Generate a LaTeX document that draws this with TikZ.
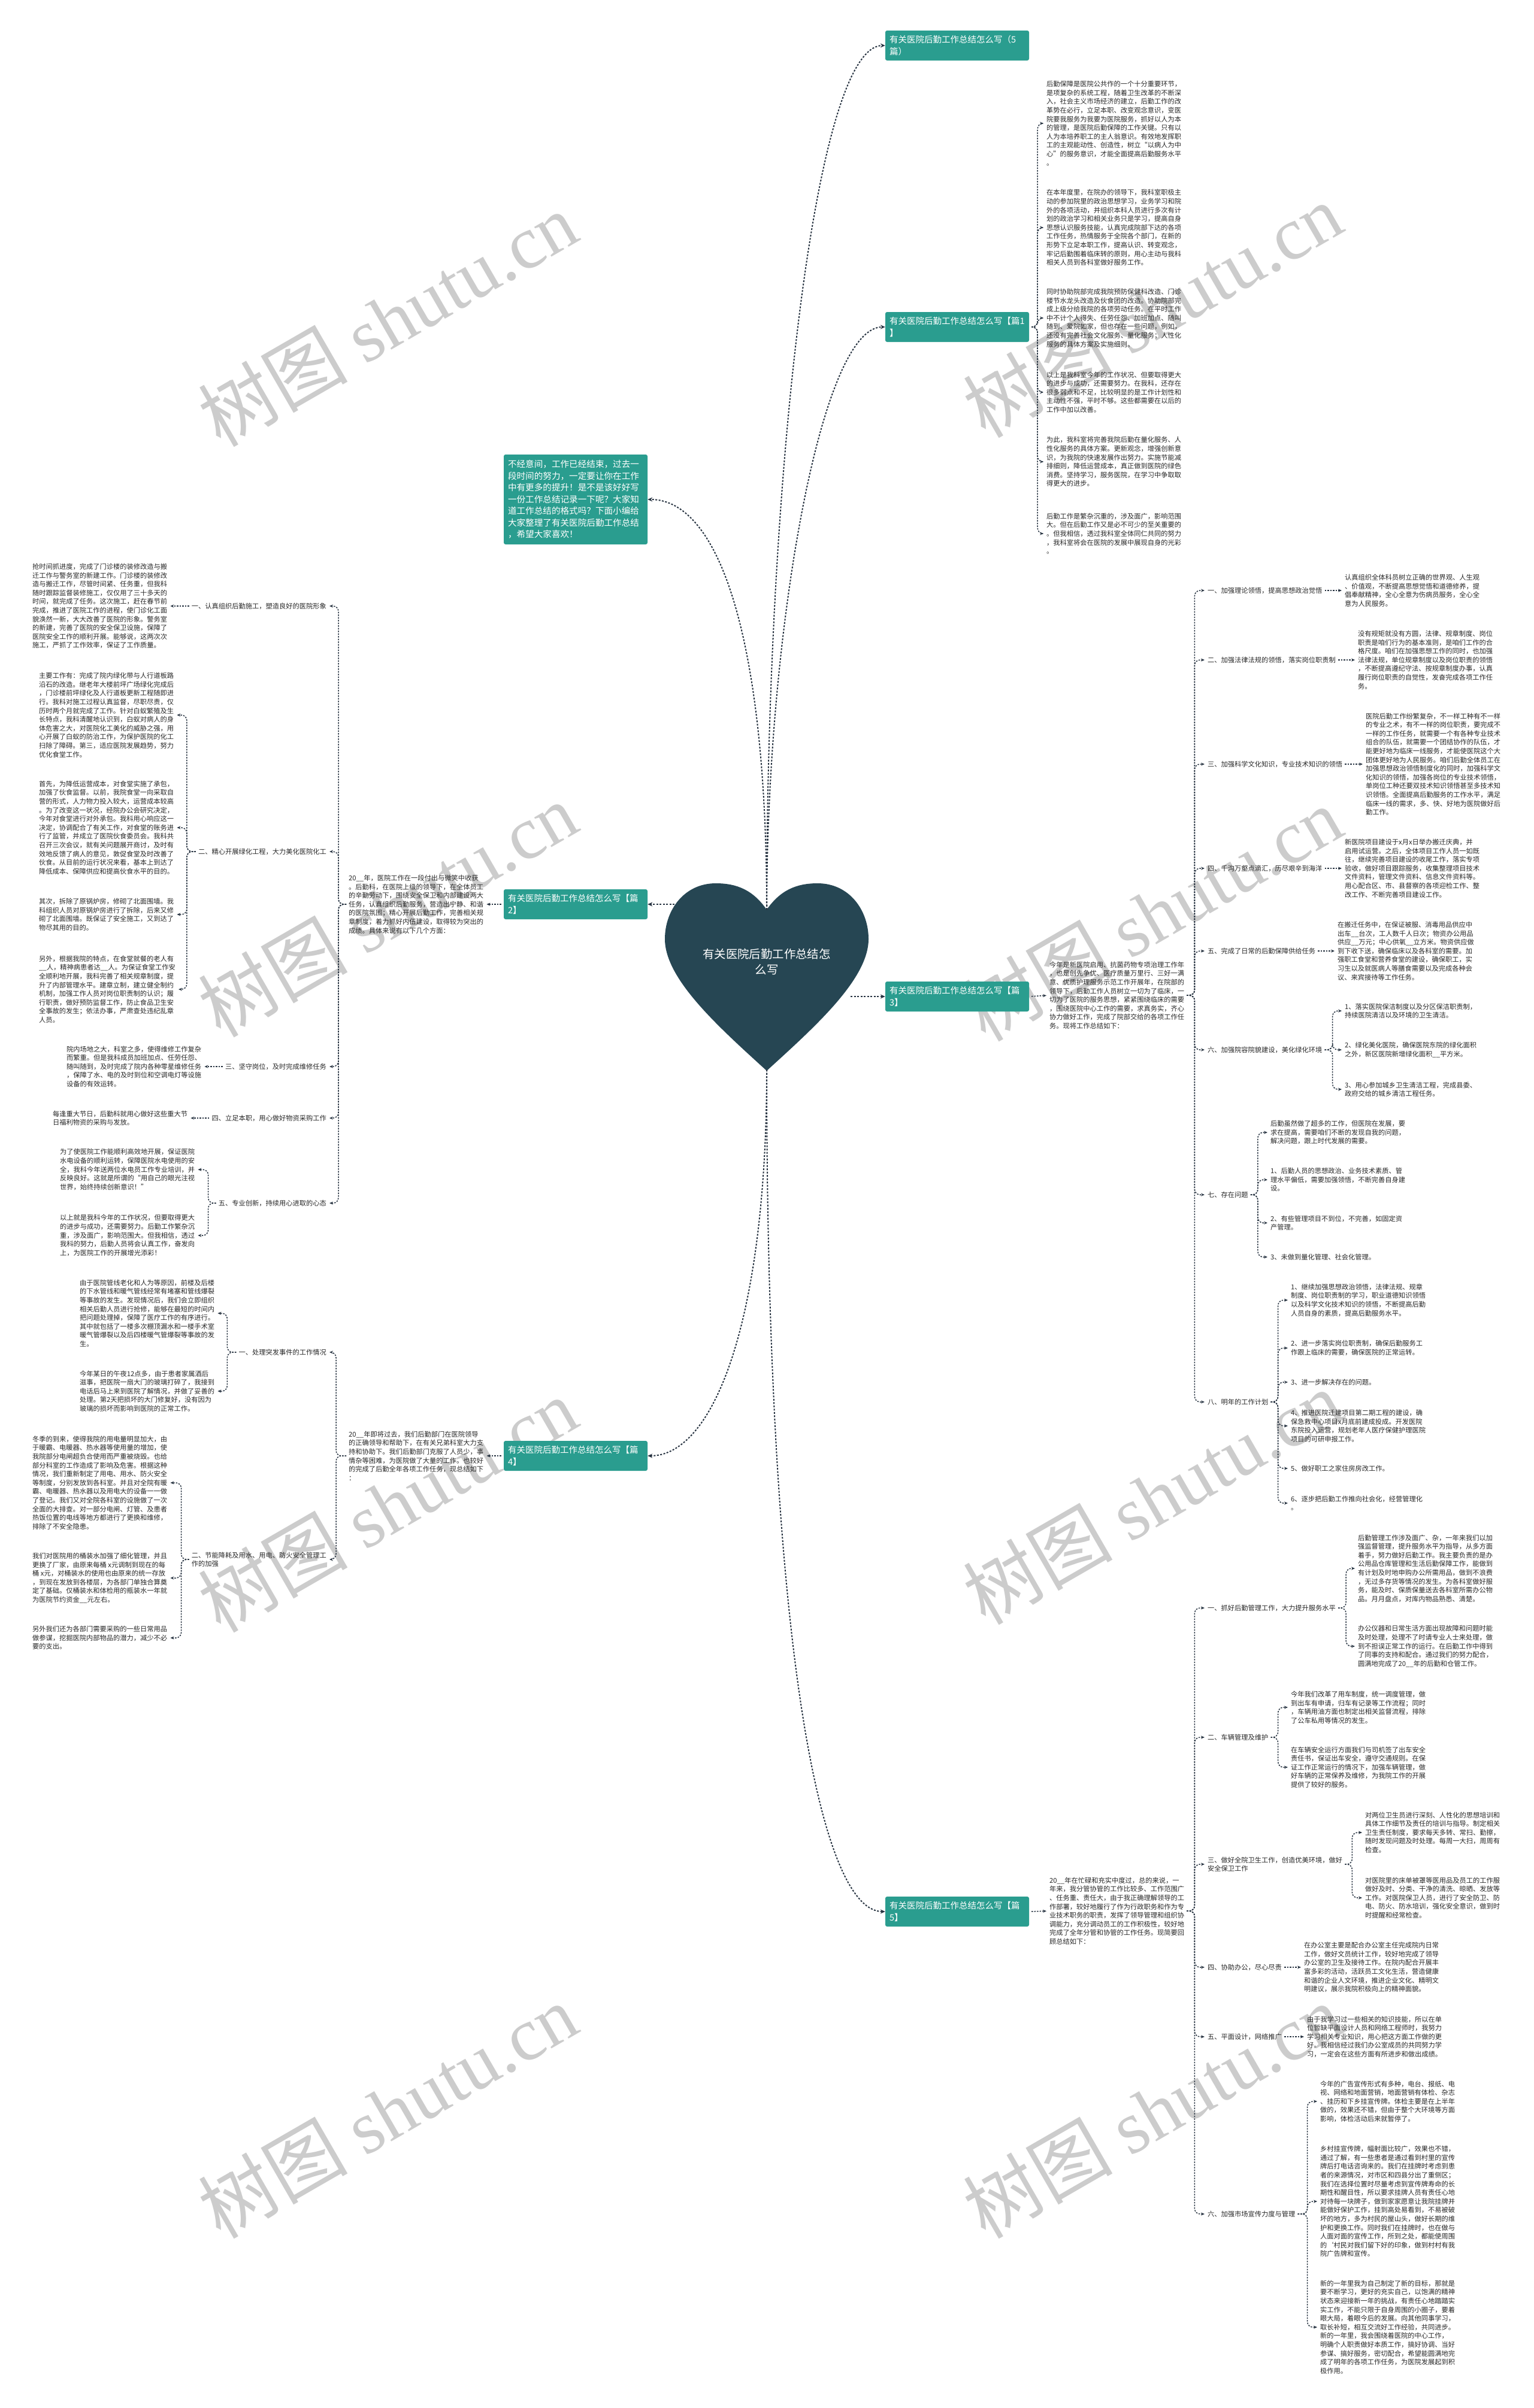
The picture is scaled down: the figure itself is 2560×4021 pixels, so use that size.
\documentclass[tikz,border=0pt]{standalone}
\usepackage{fontspec}
\setmainfont{Noto Sans CJK SC}
\newfontfamily\wmlatin{Liberation Serif}
\usetikzlibrary{arrows.meta}
\definecolor{TopicTeal}{RGB}{42,157,143}
\definecolor{HeartSlate}{RGB}{38,70,83}
\definecolor{LinkNavy}{RGB}{40,52,66}
\definecolor{LeafInk}{RGB}{40,40,40}
\definecolor{MarkGray}{RGB}{204,204,204}
\newcommand\leaffont{\fontsize{11.25pt}{14.6pt}\selectfont}
\newcommand\topicfont{\fontsize{14.5pt}{20pt}\selectfont}
\newcommand\introfont{\fontsize{14.6pt}{19.5pt}\selectfont}
\newcommand\heartfont{\fontsize{19.4pt}{26pt}\selectfont}

\begin{document}
\begin{tikzpicture}[x=1pt,y=-1pt,
  topic/.style={fill=TopicTeal,text=white,rounded corners=3pt,font=\topicfont,align=left,
    text width=226pt,inner xsep=7pt,inner ysep=5pt,minimum height=50pt},
  introbox/.style={topic,font=\introfont,minimum height=150pt},
  para/.style={inner sep=0pt,align=left,font=\leaffont,text=LeafInk,anchor=west},
  parar/.style={para,anchor=east},
  link/.style={draw=LinkNavy,line width=2pt,dash pattern=on 3pt off 2.5pt,-{Stealth[length=8pt,width=7pt]}},
  sublink/.style={draw=LinkNavy,line width=1.5pt,dash pattern=on 2.5pt off 2pt,rounded corners=9pt,
    shorten <=4pt,shorten >=5pt,-{Stealth[length=6pt,width=5pt]}},
  watermark/.style={text=MarkGray,font=\fontsize{125pt}{125pt}\selectfont,rotate=30,inner sep=0pt}]
\useasboundingbox (0,0) rectangle (2560,4021);
\fill[white] (0,0) rectangle (2560,4021);

% watermarks
\foreach \wx/\wy [count=\k] in {647/533,1924/518,647/1519,1924/1526,647/2513,1924/2500,647/3525,1924/3525}
  \node[watermark] (wm\k) at (\wx,\wy) {树图 {\wmlatin shutu.cn}};

% centre heart
\fill[HeartSlate] (1280,1519) .. controls (1303,1486) and (1330,1475) .. (1365,1475)
  .. controls (1418,1475) and (1450,1520) .. (1450,1568)
  .. controls (1450,1635) and (1360,1715) .. (1280,1788)
  .. controls (1200,1715) and (1110,1635) .. (1110,1568)
  .. controls (1110,1520) and (1142,1475) .. (1195,1475)
  .. controls (1230,1475) and (1257,1486) .. (1280,1519) -- cycle;
\node[font=\heartfont,text=white,align=center] (root) at (1280,1606) {有关医院后勤工作总结怎\\么写};
\coordinate (notch) at (1280,1519);
\coordinate (tip) at (1280,1786);
\coordinate (hwest) at (1126,1510);
\coordinate (heast) at (1420,1664);

% first level
\node[introbox] (intro) at (961,834) {不经意间，工作已经结束，过去一\\段时间的努力，一定要让你在工作\\中有更多的提升！是不是该好好写\\一份工作总结记录一下呢？大家知\\道工作总结的格式吗？下面小编给\\大家整理了有关医院后勤工作总结\\，希望大家喜欢！};
\node[topic] (l0) at (1598,76) {有关医院后勤工作总结怎么写（5\\篇）};
\node[topic] (l1) at (1598,546) {有关医院后勤工作总结怎么写【篇1\\】};
\node[topic] (l2) at (961,1510) {有关医院后勤工作总结怎么写【篇\\2】};
\node[topic] (l3) at (1598,1664) {有关医院后勤工作总结怎么写【篇\\3】};
\node[topic] (l4) at (961,2431) {有关医院后勤工作总结怎么写【篇\\4】};
\node[topic] (l5) at (1598,3192) {有关医院后勤工作总结怎么写【篇\\5】};

\draw[link] (notch) .. controls +(0,-700) and +(-120,0) .. (l0.west);
\draw[link] (notch) .. controls +(0,-450) and +(-110,0) .. (l1.west);
\draw[link] (notch) .. controls +(0,-450) and +(120,0) .. (intro.east);
\draw[link] (hwest) -- (l2.east);
\draw[link] (heast) -- (l3.west);
\draw[link] (tip) .. controls +(0,420) and +(110,0) .. (l4.east);
\draw[link] (tip) .. controls +(0,950) and +(-110,0) .. (l5.west);

% ---- 篇1
\node[para] (p1a) at (1747,206) {后勤保障是医院公共作的一个十分重要环节，\\是项复杂的系统工程，随着卫生改革的不断深\\入，社会主义市场经济的建立，后勤工作的改\\革势在必行，立足本职、改变观念意识，变医\\院要我服务为我要为医院服务，抓好以人为本\\的管理，是医院后勤保障的工作关键。只有以\\人为本培养职工的主人翁意识。有效地发挥职\\工的主观能动性、创造性，树立“以病人为中\\心”的服务意识，才能全面提高后勤服务水平\\。};
\node[para] (p1b) at (1747,380) {在本年度里，在院办的领导下，我科室职极主\\动的参加院里的政治思想学习，业务学习和院\\外的各项活动，并组织本科人员进行多次有计\\划的政治学习和相关业务只是学习，提高自身\\思想认识服务技能，认真完成院部下达的各项\\工作任务，热情服务于全院各个部门，在新的\\形势下立足本职工作，提高认识、转变观念，\\牢记后勤围着临床转的原则，用心主动与我科\\相关人员到各科室做好服务工作。};
\node[para] (p1c) at (1747,531) {同时协助院部完成我院预防保健科改造、门诊\\楼节水龙头改造及伙食团的改造。协助院部完\\成上级分给我院的各项劳动任务。在平时工作\\中不计个人得失、任劳任怨、加班加点、随叫\\随到、爱院如家，但也存在一些问题，例如，\\还没有完善社会文化服务、量化服务；人性化\\服务的具体方案及实施细则。};
\node[para] (p1d) at (1747,655) {以上是我科室今年的工作状况、但要取得更大\\的进步与成功，还需要努力。在我科，还存在\\很多弱点和不足，比较明显的是工作计划性和\\主动性不强，平时不够。这些都需要在以后的\\工作中加以改善。};
\node[para] (p1e) at (1747,771) {为此，我科室将完善我院后勤在量化服务、人\\性化服务的具体方案。更新观念，增强创新意\\识，为我院的快速发展作出努力。实施节能减\\排细则，降低运营成本，真正做到医院的绿色\\消费。坚持学习，服务医院，在学习中争取取\\得更大的进步。};
\node[para] (p1f) at (1747,891) {后勤工作是繁杂沉重的，涉及面广，影响范围\\大。但在后勤工作又是必不可少的至关重要的\\。但我相信，透过我科室全体同仁共同的努力\\，我科室将会在医院的发展中展现自身的光彩\\。};
\foreach \p in {p1a,p1b,p1c,p1d,p1e,p1f}
  \draw[sublink] (l1.east) -- ++(14,0) |- (\p.west);

% ---- 篇3
\node[para] (i3) at (1752,1662) {今年是新医院启用、抗菌药物专项治理工作年\\，也是创先争优、医疗质量万里行、三好一满\\意、优质护理服务示范工作开展年，在院部的\\领导下，后勤工作人员树立一切为了临床，一\\切为了医院的服务思想，紧紧围绕临床的需要\\，围绕医院中心工作的需要，求真务实，齐心\\协力做好工作，完成了院部交给的各项工作任\\务。现将工作总结如下：};
\draw[sublink] (l3.east) -- (i3.west);
\node[para] (h3a) at (2016,986) {一、加强理论领悟，提高思想政治觉悟};
\node[para] (h3b) at (2016,1102) {二、加强法律法规的领悟，落实岗位职责制};
\node[para] (h3c) at (2016,1276) {三、加强科学文化知识，专业技术知识的领悟};
\node[para] (h3d) at (2016,1450) {四、千沟万壑点滴汇，历尽艰辛到海洋};
\node[para] (h3e) at (2016,1588) {五、完成了日常的后勤保障供给任务};
\node[para] (h3f) at (2016,1753) {六、加强院容院貌建设，美化绿化环境};
\node[para] (h3g) at (2016,1995) {七、存在问题};
\node[para] (h3h) at (2016,2341) {八、明年的工作计划};
\foreach \h in {h3a,h3b,h3c,h3d,h3e,h3f,h3g,h3h}
  \draw[sublink] (i3.east) -- ++(17,0) |- (\h.west);

\node[para] (t3a) at (2245,986) {认真组织全体科员树立正确的世界观、人生观\\、价值观，不断提高思想觉悟和道德修养，提\\倡奉献精神，全心全意为伤病员服务，全心全\\意为人民服务。};
\node[para] (t3b) at (2267,1102) {没有规矩就没有方圆，法律、规章制度、岗位\\职责是咱们行为的基本准则，是咱们工作的合\\格尺度。咱们在加强思想工作的同时，也加强\\法律法规，单位规章制度以及岗位职责的领悟\\，不断提高遵纪守法、按规章制度办事，认真\\履行岗位职责的自觉性，发奋完成各项工作任\\务。};
\node[para] (t3c) at (2280,1276) {医院后勤工作纷繁复杂，不一样工种有不一样\\的专业之术，有不一样的岗位职责，要完成不\\一样的工作任务，就需要一个有各种专业技术\\组合的队伍，就需要一个团结协作的队伍，才\\能更好地为临床一线服务，才能使医院这个大\\团体更好地为人民服务。咱们后勤全体员工在\\加强思想政治领悟制度化的同时，加强科学文\\化知识的领悟，加强各岗位的专业技术领悟，\\单岗位工种还要双技术知识领悟甚至多技术知\\识领悟。全面提高后勤服务的工作水平，满足\\临床一线的需求，多、快、好地为医院做好后\\勤工作。};
\node[para] (t3d) at (2245,1450) {新医院项目建设于x月x日举办搬迁庆典，并\\启用试运营。之后，全体项目工作人员一如既\\往，继续完善项目建设的收尾工作，落实专项\\验收，做好项目跟踪服务，收集整理项目技术\\文件资料，管理文件资料、信息文件资料等。\\用心配合区、市、县督察的各项迎检工作、整\\改工作、不断完善项目建设工作。};
\node[para] (t3e) at (2233,1588) {在搬迁任务中，在保证被服、消毒用品供应中\\出车\_\_台次，工人数千人日次；物资办公用品\\供应\_\_万元；中心供氧\_\_立方米。物资供应做\\到下收下送，确保临床以及各科室的需要。加\\强职工食堂和营养食堂的建设，确保职工，实\\习生以及就医病人等膳食需要以及完成各种会\\议、来宾接待等工作任务。};
\foreach \h/\t in {h3a/t3a,h3b/t3b,h3c/t3c,h3d/t3d,h3e/t3e}
  \draw[sublink] (\h.east) -- (\t.west);

\node[para] (t3f1) at (2245,1688) {1、落实医院保洁制度以及分区保洁职责制，\\持续医院清洁以及环境的卫生清洁。};
\node[para] (t3f2) at (2245,1753) {2、绿化美化医院，确保医院东院的绿化面积\\之外，新区医院新增绿化面积\_\_平方米。};
\node[para] (t3f3) at (2245,1819) {3、用心参加城乡卫生清洁工程，完成县委、\\政府交给的城乡清洁工程任务。};
\foreach \t in {t3f1,t3f2,t3f3}
  \draw[sublink] (h3f.east) -- ++(17,0) |- (\t.west);

\node[para] (t3g0) at (2121,1891) {后勤虽然做了超多的工作，但医院在发展，要\\求在提高，需要咱们不断的发现自我的问题，\\解决问题，跟上时代发展的需要。};
\node[para] (t3g1) at (2121,1970) {1、后勤人员的思想政治、业务技术素质、管\\理水平偏低，需要加强领悟，不断完善自身建\\设。};
\node[para] (t3g2) at (2121,2042) {2、有些管理项目不到位，不完善，如固定资\\产管理。};
\node[para] (t3g3) at (2121,2099) {3、未做到量化管理、社会化管理。};
\foreach \t in {t3g0,t3g1,t3g2,t3g3}
  \draw[sublink] (h3g.east) -- ++(16,0) |- (\t.west);

\node[para] (t3h1) at (2155,2171) {1、继续加强思想政治领悟，法律法规、规章\\制度、岗位职责制的学习，职业道德知识领悟\\以及科学文化技术知识的领悟，不断提高后勤\\人员自身的素质，提高后勤服务水平。};
\node[para] (t3h2) at (2155,2251) {2、进一步落实岗位职责制，确保后勤服务工\\作跟上临床的需要，确保医院的正常运转。};
\node[para] (t3h3) at (2155,2308) {3、进一步解决存在的问题。};
\node[para] (t3h4) at (2155,2381) {4、推进医院迁建项目第二期工程的建设，确\\保急救中心项目x月底前建成投成。开发医院\\东院投入运营，规划老年人医疗保健护理医院\\项目的可研申报工作。};
\node[para] (t3h5) at (2155,2452) {5、做好职工之家住房房改工作。};
\node[para] (t3h6) at (2155,2510) {6、逐步把后勤工作推向社会化，经营管理化\\。};
\foreach \t in {t3h1,t3h2,t3h3,t3h4,t3h5,t3h6}
  \draw[sublink] (h3h.east) -- ++(16,0) |- (\t.west);

% ---- 篇5
\node[para] (i5) at (1752,3191) {20\_\_年在忙碌和充实中度过，总的来说，一\\年来，我分管协管的工作比较多、工作范围广\\、任务重、责任大，由于我正确理解领导的工\\作部署，较好地履行了作为行政职务和作为专\\业技术职务的职责，发挥了领导管理和组织协\\调能力，充分调动员工的工作积极性，较好地\\完成了全年分管和协管的工作任务。现简要回\\顾总结如下：};
\draw[sublink] (l5.east) -- (i5.west);
\node[para] (h5a) at (2016,2685) {一、抓好后勤管理工作，大力提升服务水平};
\node[para] (h5b) at (2016,2901) {二、车辆管理及维护};
\node[para] (h5c) at (2016,3113) {三、做好全院卫生工作，创造优美环境，做好\\安全保卫工作};
\node[para] (h5d) at (2016,3285) {四、协助办公，尽心尽责};
\node[para] (h5e) at (2016,3401) {五、平面设计，网络推广};
\node[para] (h5f) at (2016,3697) {六、加强市场宣传力度与管理};
\foreach \h in {h5a,h5b,h5c,h5d,h5e,h5f}
  \draw[sublink] (i5.east) -- ++(17,0) |- (\h.west);

\node[para] (t5a1) at (2267,2619) {后勤管理工作涉及面广、杂，一年来我们以加\\强监督管理，提升服务水平为指导，从多方面\\着手，努力做好后勤工作。我主要负责的是办\\公用品仓库管理和生活后勤保障工作，能做到\\有计划及时地申购办公所需用品，做到不浪费\\，无过多存货等情况的发生。为各科室做好服\\务，能及时、保质保量送去各科室所需办公物\\品。月月盘点，对库内物品熟悉、清楚。};
\node[para] (t5a2) at (2267,2749) {办公仪器和日常生活方面出现故障和问题时能\\及时处理，处理不了时请专业人士来处理，做\\到不担误正常工作的运行。在后勤工作中得到\\了同事的支持和配合。通过我们的努力配合，\\圆满地完成了20\_\_年的后勤和仓管工作。};
\foreach \t in {t5a1,t5a2}
  \draw[sublink] (h5a.east) -- ++(17,0) |- (\t.west);

\node[para] (t5b1) at (2155,2851) {今年我们改革了用车制度，统一调度管理，做\\到出车有申请，归车有记录等工作流程；同时\\，车辆用油方面也制定出相关监督流程，排除\\了公车私用等情况的发生。};
\node[para] (t5b2) at (2155,2951) {在车辆安全运行方面我们与司机签了出车安全\\责任书，保证出车安全，遵守交通规则。在保\\证工作正常运行的情况下，加强车辆管理，做\\好车辆的正常保养及维修，为我院工作的开展\\提供了较好的服务。};
\foreach \t in {t5b1,t5b2}
  \draw[sublink] (h5b.east) -- ++(16,0) |- (\t.west);

\node[para] (t5c1) at (2279,3060) {对两位卫生员进行深刻、人性化的思想培训和\\具体工作细节及责任的培训与指导。制定相关\\卫生责任制度，要求每天多转、常扫、勤擦，\\随时发现问题及时处理。每周一大扫，周周有\\检查。};
\node[para] (t5c2) at (2279,3169) {对医院里的床单被罩等医用品及员工的工作服\\做好及时、分类、干净的清洗、晾晒、发放等\\工作。对医院保卫人员，进行了安全防卫、防\\电、防火、防水培训，强化安全意识，做到时\\时提醒和经常检查。};
\foreach \t in {t5c1,t5c2}
  \draw[sublink] (h5c.east) -- ++(16,0) |- (\t.west);

\node[para] (t5d) at (2177,3285) {在办公室主要是配合办公室主任完成院内日常\\工作，做好文员统计工作，较好地完成了领导\\办公室的卫生及接待工作。在院内配合开展丰\\富多彩的活动，活跃员工文化生活，营造健康\\和谐的企业人文环境，推进企业文化、精明文\\明建议，展示我院积极向上的精神面貌。};
\node[para] (t5e) at (2182,3401) {由于我学习过一些相关的知识技能，所以在单\\位暂缺平面设计人员和网络工程师时，我努力\\学习相关专业知识，用心把这方面工作做的更\\好。我相信经过我们办公室成员的共同努力学\\习，一定会在这些方面有所进步和做出成绩。};
\draw[sublink] (h5d.east) -- (t5d.west);
\draw[sublink] (h5e.east) -- (t5e.west);

\node[para] (t5f1) at (2204,3509) {今年的广告宣传形式有多种，电台、报纸、电\\视、网络和地面营销，地面营销有体检、杂志\\、挂历和下乡挂宣传牌。体检主要是在上半年\\做的，效果还不错，但由于整个大环境等方面\\影响，体检活动后来就暂停了。};
\node[para] (t5f2) at (2204,3676) {乡村挂宣传牌，幅射面比较广，效果也不错，\\通过了解，有一些患者是通过看到村里的宣传\\牌后打电话咨询来的。我们在挂牌时考虑到患\\者的来源情况，对市区和四县分出了重侧区；\\我们在选择位置时尽量考虑到宣传牌寿命的长\\期性和醒目性，所以要求挂牌人员有责任心地\\对待每一块牌子，做到家家愿意让我院挂牌并\\能做好保护工作，挂到高处易看到，不易被破\\坏的地方，多为村民的屋山头，做好长期的维\\护和更换工作。同时我们在挂牌时，也在做与\\人面对面的宣传工作，所到之处，都能使周围\\的`村民对我们留下好的印象，做到村村有我\\院广告牌和宣传。};
\node[para] (t5f3) at (2204,3886) {新的一年里我为自己制定了新的目标，那就是\\要不断学习，更好的充实自己，以饱满的精神\\状态来迎接新一年的挑战，有责任心地踏踏实\\实工作，不能只限于自身周围的小圈子，要着\\眼大局，着眼今后的发展。向其他同事学习，\\取长补短，相互交流好工作经验，共同进步。\\ 新的一年里，我会围绕着医院的中心工作，\\明确个人职责做好本质工作，搞好协调、当好\\参谋、搞好服务，密切配合，希望能圆满地完\\成了明年的各项工作任务，为医院发展起到积\\极作用。};
\foreach \t in {t5f1,t5f2,t5f3}
  \draw[sublink] (h5f.east) -- ++(20,0) |- (\t.west);

% ---- 篇2
\node[para] (i2) at (582,1510) {20\_\_年，医院工作在一段付出与微笑中收获\\。后勤科，在医院上级的领导下，在全体员工\\的辛勤劳动下，围绕安全保卫和内部建设两大\\任务，认真组织后勤服务，营造出宁静、和谐\\的医院氛围；精心开展后勤工作，完善相关规\\章制度，着力抓好内伍建设，取得较为突出的\\成绩。具体来说有以下几个方面：};
\draw[sublink] (l2.west) -- (i2.east);
\node[parar] (h2a) at (545,1012) {一、认真组织后勤施工，塑造良好的医院形象};
\node[parar] (h2b) at (545,1422) {二、精心开展绿化工程，大力美化医院化工};
\node[parar] (h2c) at (545,1781) {三、坚守岗位，及时完成维修任务};
\node[parar] (h2d) at (545,1867) {四、立足本职，用心做好物资采购工作};
\node[parar] (h2e) at (545,2009) {五、专业创新，持续用心进取的心态};
\foreach \h in {h2a,h2b,h2c,h2d,h2e}
  \draw[sublink] (i2.west) -- ++(-17,0) |- (\h.east);

\node[para] (t2a) at (54,1012) {抢时间抓进度，完成了门诊楼的装修改造与搬\\迁工作与警务室的新建工作。门诊楼的装修改\\造与搬迁工作，尽管时间紧、任务重，但我科\\随时跟踪监督装修施工，仅仅用了三十多天的\\时间，就完成了任务。这次施工，赶在春节前\\完成，推进了医院工作的进程，使门诊化工面\\貌涣然一新，大大改善了医院的形象。警务室\\的新建，完善了医院的安全保卫设施，保障了\\医院安全工作的顺利开展。能够说，这两次次\\施工，严抓了工作效率，保证了工作质量。};
\draw[sublink] (h2a.west) -- (t2a.east);

\node[para] (t2b1) at (65,1194) {主要工作有：完成了院内绿化带与人行道板路\\沿石的改造。继老年大楼前坪广场绿化完成后\\，门诊楼前坪绿化及人行道板更新工程随即进\\行。我科对施工过程认真监督，尽职尽责，仅\\历时两个月就完成了工作。针对白蚁繁殖及生\\长特点，我科清醒地认识到，白蚁对病人的身\\体危害之大，对医院化工美化的威胁之强，用\\心开展了白蚁的防治工作，为保护医院的化工\\扫除了障碍。第三，适应医院发展趋势，努力\\优化食堂工作。};
\node[para] (t2b2) at (65,1382) {首先，为降低运营成本，对食堂实施了承包，\\加强了伙食监督。以前，我院食堂一向采取自\\营的形式，人力物力投入较大，运营成本较高\\。为了改变这一状况，经院办公会研究决定，\\今年对食堂进行对外承包。我科用心响应这一\\决定，协调配合了有关工作，对食堂的账务进\\行了监管，并成立了医院伙食委员会。我科共\\召开三次会议，就有关问题展开商讨，及时有\\效地反馈了病人的意见，敦促食堂及时改善了\\伙食。从目前的运行状况来看，基本上到达了\\降低成本、保障供应和提高伙食水平的目的。};
\node[para] (t2b3) at (65,1527) {其次，拆除了原锅炉房，修砌了北面围墙。我\\科组织人员对原锅炉房进行了拆除，后来又修\\砌了北面围墙。既保证了安全施工，又到达了\\物尽其用的目的。};
\node[para] (t2b4) at (65,1652) {另外，根据我院的特点，在食堂就餐的老人有\\\_\_人，精神病患者达\_\_人。为保证食堂工作安\\全顺利地开展，我科完善了相关规章制度，提\\升了内部管理水平。建章立制，建立健全制约\\机制，加强工作人员对岗位职责制的认识；履\\行职责，做好预防监督工作，防止食品卫生安\\全事故的发生；依法办事，严肃查处违纪乱章\\人员。};
\foreach \t in {t2b1,t2b2,t2b3,t2b4}
  \draw[sublink] (h2b.west) -- ++(-19,0) |- (\t.east);

\node[para] (t2c) at (111,1781) {院内场地之大，科室之多，使得维修工作复杂\\而繁重。但是我科成员加班加点、任劳任怨、\\随叫随到，及时完成了院内各种零星维修任务\\，保障了水、电的及时到位和空调电灯等设施\\设备的有效运转。};
\node[para] (t2d) at (88,1867) {每逢重大节日，后勤科就用心做好这些重大节\\日福利物资的采购与发放。};
\draw[sublink] (h2c.west) -- (t2c.east);
\draw[sublink] (h2d.west) -- (t2d.east);

\node[para] (t2e1) at (100,1953) {为了使医院工作能顺利高效地开展，保证医院\\水电设备的顺利运转，保障医院水电使用的安\\全，我科今年送两位水电员工作专业培训，并\\反映良好。这就是所谓的“用自己的眼光注视\\世界，始终持续创新意识！”};
\node[para] (t2e2) at (100,2063) {以上就是我科今年的工作状况，但要取得更大\\的进步与成功，还需要努力。后勤工作繁杂沉\\重，涉及面广，影响范围大。但我相信，透过\\我科的努力，后勤人员将会认真工作，奋发向\\上，为医院工作的开展增光添彩！};
\foreach \t in {t2e1,t2e2}
  \draw[sublink] (h2e.west) -- ++(-17,0) |- (\t.east);

% ---- 篇4
\node[para] (i4) at (582,2431) {20\_\_年即将过去，我们后勤部门在医院领导\\的正确领导和帮助下，在有关兄弟科室大力支\\持和协助下。我们后勤部门克服了人员少，事\\情杂等困难，为医院做了大量的工作。也较好\\的完成了后勤全年各项工作任务，现总结如下\\：};
\draw[sublink] (l4.west) -- (i4.east);
\node[parar] (h4a) at (545,2258) {一、处理突发事件的工作情况};
\node[parar] (h4b) at (545,2604) {二、节能降耗及用水、用电、防火安全管理工\\作的加强};
\foreach \h in {h4a,h4b}
  \draw[sublink] (i4.west) -- ++(-21,0) |- (\h.east);

\node[para] (t4a1) at (133,2193) {由于医院管线老化和人为等原因，前楼及后楼\\的下水管线和暖气管线经常有堵塞和管线爆裂\\等事故的发生。发现情况后，我们会立即组织\\相关后勤人员进行抢修，能够在最短的时间内\\把问题处理掉，保障了医疗工作的有序进行。\\其中就包括了一楼多次棚顶漏水和一楼手术室\\暖气管爆裂以及后四楼暖气管爆裂等事故的发\\生。};
\node[para] (t4a2) at (133,2323) {今年某日的午夜12点多，由于患者家属酒后\\滋事，把医院一扇大门的玻璃打碎了，我接到\\电话后马上来到医院了解情况，并做了妥善的\\处理。第2天把损坏的大门修复好，没有因为\\玻璃的损坏而影响到医院的正常工作。};
\foreach \t in {t4a1,t4a2}
  \draw[sublink] (h4a.west) -- ++(-19,0) |- (\t.east);

\node[para] (t4b1) at (54,2476) {冬季的到来，使得我院的用电量明显加大，由\\于暖霸、电暖器、热水器等使用量的增加，使\\我院部分电闸超负合使用而严重被烧毁。也给\\部分科室的工作造成了影响及危害。根据这种\\情况，我们重新制定了用电、用水、防火安全\\等制度，分别发放到各科室。并且对全院有暖\\霸、电暖器、热水器以及用电大的设备一一做\\了登记。我们又对全院各科室的设施做了一次\\全面的大排查。对一部分电闸、灯管、及患者\\热饭位置的电线等地方都进行了更换和维修，\\排除了不安全隐患。};
\node[para] (t4b2) at (54,2635) {我们对医院用的桶装水加强了细化管理，并且\\更换了厂家，由原来每桶 x元调制到现在的每\\桶 x元，对桶装水的使用也由原来的统一存放\\，到现在发放到各楼层，为各部门单独合算奠\\定了基础。仅桶装水和体检用的瓶装水一年就\\为医院节约资金\_\_元左右。};
\node[para] (t4b3) at (54,2735) {另外我们还为各部门需要采购的一些日常用品\\做参谋，挖掘医院内部物品的潜力，减少不必\\要的支出。};
\foreach \t in {t4b1,t4b2,t4b3}
  \draw[sublink] (h4b.west) -- ++(-17,0) |- (\t.east);
\end{tikzpicture}
\end{document}
